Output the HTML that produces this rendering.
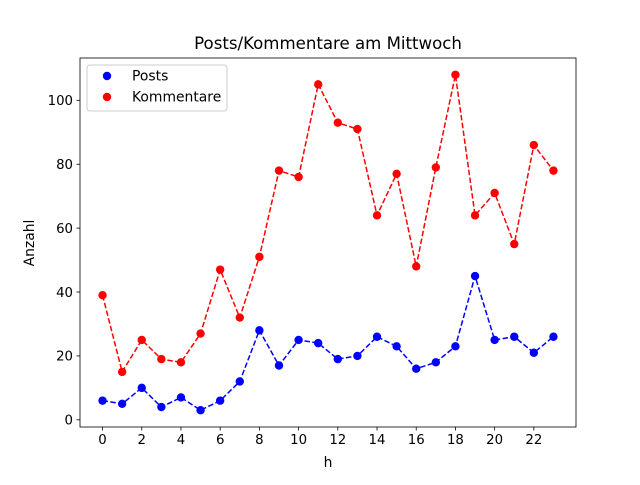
<!DOCTYPE html>
<html><head><meta charset="utf-8"><style>
body{margin:0;background:#fff;}
svg text{font-family:"DejaVu Sans","Liberation Sans",sans-serif;fill:#000;}
</style></head><body>
<svg id="chart" width="640" height="480" xmlns="http://www.w3.org/2000/svg">
<rect x="0" y="0" width="640" height="480" fill="#fff"/>
<text x="328" y="49" font-size="16.6" text-anchor="middle">Posts/Kommentare am Mittwoch</text>
<g id="ticks"></g>
<g id="series"></g>
<rect x="80" y="58" width="496" height="369" fill="none" stroke="#000" stroke-width="0.8"/>
<text x="328" y="467" font-size="13.9" text-anchor="middle">h</text>
<text x="34" y="243" font-size="13.9" text-anchor="middle" transform="rotate(-90 34 243)">Anzahl</text>
<g>
<rect x="87" y="65" width="140" height="46" rx="3" fill="#fff" stroke="#ccc" stroke-width="1"/>
<g>
<circle cx="107" cy="76" r="4.2" fill="#0000ff"/>
<text x="132" y="80.5" font-size="13.9">Posts</text></g>
<g>
<circle cx="107" cy="97" r="4.2" fill="#ff0000"/>
<text x="132" y="101.5" font-size="13.9">Kommentare</text></g>
</g>
</svg>
<script>
const hours=[0,1,2,3,4,5,6,7,8,9,10,11,12,13,14,15,16,17,18,19,20,21,22,23];
const posts=[6,5,10,4,7,3,6,12,28,17,25,24,19,20,26,23,16,18,23,45,25,26,21,26];
const kommentare=[39,15,25,19,18,27,47,32,51,78,76,105,93,91,64,77,48,79,108,64,71,55,86,78];
const xTicks=[0,2,4,6,8,10,12,14,16,18,20,22];
const yTicks=[0,20,40,60,80,100];
const NS="http://www.w3.org/2000/svg";
const L=80,R=576,T=58,B=427,xMin=-1.15,xMax=24.15,yMin=-2.25,yMax=113.25;
const xs=v=>L+(v-xMin)/(xMax-xMin)*(R-L);
const ys=v=>B-(v-yMin)/(yMax-yMin)*(B-T);
const tg=document.getElementById('ticks');
function mk(tag,attrs,parent){const e=document.createElementNS(NS,tag);for(const k in attrs)e.setAttribute(k,attrs[k]);parent.appendChild(e);return e;}
xTicks.forEach(t=>{
const g=mk('g',{},tg);


mk('line',{x1:xs(t),x2:xs(t),y1:B,y2:B+3.5,stroke:'#000','stroke-width':0.8},g);
const tx=mk('text',{x:xs(t),y:B+17,'font-size':13.3,'text-anchor':'middle'},g);tx.textContent=t;});
yTicks.forEach(t=>{
const g=mk('g',{},tg);


mk('line',{x1:L-3.5,x2:L,y1:ys(t),y2:ys(t),stroke:'#000','stroke-width':0.8},g);
const tx=mk('text',{x:L-7,y:ys(t)+4.8,'font-size':13.3,'text-anchor':'end'},g);tx.textContent=t;});
const sg=document.getElementById('series');
function series(vals,color,name){
const g=mk('g',{},sg);


const pl=mk('polyline',{points:vals.map((v,i)=>xs(hours[i])+','+ys(v)).join(' '),fill:'none',stroke:color,'stroke-width':1.5,'stroke-dasharray':'5.5,2.4'},g);


vals.forEach((v,i)=>{const c=mk('circle',{cx:xs(hours[i]),cy:ys(v),r:4.2,fill:color},g);

});
}
series(posts,'#0000ff','posts');
series(kommentare,'#ff0000','kommentare');
</script>
</body></html>
